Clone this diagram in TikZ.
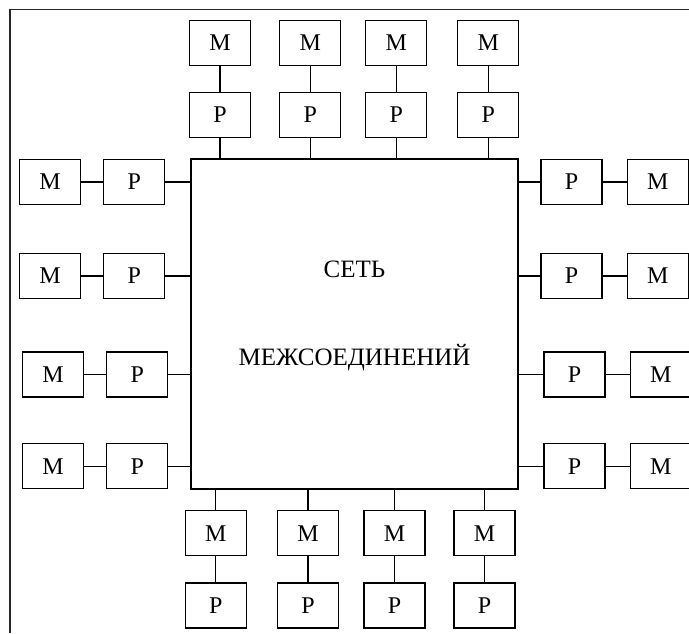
\documentclass[tikz,border=0pt]{standalone}
\usepackage{fontspec}
\setmainfont{Liberation Serif}
\usetikzlibrary{positioning}

\begin{document}
\begin{tikzpicture}[
		x=1pt, y=1pt,
		node distance=26pt and 22pt,
		box/.style={draw, rectangle, minimum width=61pt, minimum height=45pt, inner sep=0pt, line width=1.2pt, font=\fontsize{24}{26}\selectfont},
		link/.style={line width=1.2pt}
		]
		\useasboundingbox (0,0) rectangle (689,-633);
		
		% Frame
		\draw[line width=1.3pt, black!85] (10,-633) -- (10,-9.5) -- (689,-9.5);
		
		% Network
		\node[draw, rectangle, line width=1.2pt, minimum width=327pt, minimum height=330pt] (net) at (354.5,-324) {};
		\node[align=center, font=\fontsize{25}{88}\selectfont] (netlabel) at ([yshift=8pt]net.center) {СЕТЬ\\МЕЖСОЕДИНЕНИЙ};
		
		% Top
		\node[box] (pt1) at (220,-115) {Р};
		\node[box] (pt2) at (310.3,-115) {Р};
		\node[box] (pt3) at (396.3,-115) {Р};
		\node[box] (pt4) at (488.3,-115) {Р};
		\node[box, above=of pt1] (mt1) {М};
		\node[box, above=of pt2] (mt2) {М};
		\node[box, above=of pt3] (mt3) {М};
		\node[box, above=of pt4] (mt4) {М};
		
		% Bottom
		\node[box] (mb1) at (215.8,-533.3) {М};
		\node[box] (mb2) at (308,-533.3) {М};
		\node[box] (mb3) at (394.5,-533.3) {М};
		\node[box] (mb4) at (484.5,-533.3) {М};
		\node[box, below=of mb1] (pb1) {Р};
		\node[box, below=of mb2] (pb2) {Р};
		\node[box, below=of mb3] (pb3) {Р};
		\node[box, below=of mb4] (pb4) {Р};
		
		% Left
		\node[box] (pl1) at (134.3,-182) {Р};
		\node[box] (pl2) at (134.3,-276) {Р};
		\node[box] (pl3) at (137.2,-374.5) {Р};
		\node[box] (pl4) at (137.2,-466.3) {Р};
		\node[box, left=of pl1] (ml1) {М};
		\node[box, left=of pl2] (ml2) {М};
		\node[box, left=of pl3] (ml3) {М};
		\node[box, left=of pl4] (ml4) {М};
		
		% Right
		\node[box] (pr1) at (571.5,-182) {Р};
		\node[box] (pr2) at (571.5,-276) {Р};
		\node[box] (pr3) at (574.5,-374.5) {Р};
		\node[box] (pr4) at (574.5,-466.3) {Р};
		\node[box, right=24pt of pr1] (mr1) {М};
		\node[box, right=24pt of pr2] (mr2) {М};
		\node[box, right=24pt of pr3] (mr3) {М};
		\node[box, right=24pt of pr4] (mr4) {М};
		
		% Lines
		\draw[link] (mt1) -- (pt1) -- (pt1 |- net.north);
		\draw[link] (mt2) -- (pt2) -- (pt2 |- net.north);
		\draw[link] (mt3) -- (pt3) -- (pt3 |- net.north);
		\draw[link] (mt4) -- (pt4) -- (pt4 |- net.north);
		
		\draw[link] (pb1) -- (mb1) -- (mb1 |- net.south);
		\draw[link] (pb2) -- (mb2) -- (mb2 |- net.south);
		\draw[link] (pb3) -- (mb3) -- (mb3 |- net.south);
		\draw[link] (pb4) -- (mb4) -- (mb4 |- net.south);
		
		\draw[link] (ml1) -- (pl1) -- (pl1 -| net.west);
		\draw[link] (ml2) -- (pl2) -- (pl2 -| net.west);
		\draw[link] (ml3) -- (pl3) -- (pl3 -| net.west);
		\draw[link] (ml4) -- (pl4) -- (pl4 -| net.west);
		
		\draw[link] (mr1) -- (pr1) -- (pr1 -| net.east);
		\draw[link] (mr2) -- (pr2) -- (pr2 -| net.east);
		\draw[link] (mr3) -- (pr3) -- (pr3 -| net.east);
		\draw[link] (mr4) -- (pr4) -- (pr4 -| net.east);
		
	\end{tikzpicture}
\end{document}
